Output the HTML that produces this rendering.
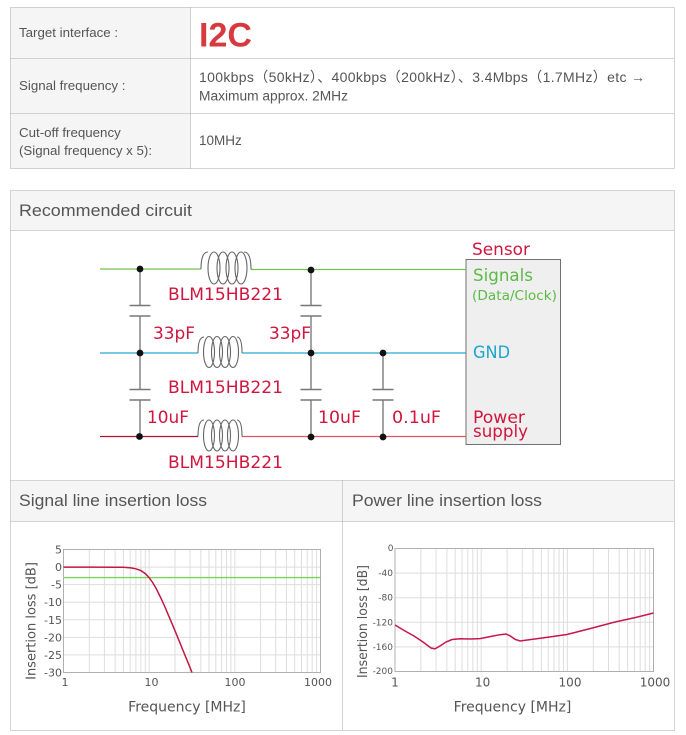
<!DOCTYPE html>
<html><head><meta charset="utf-8">
<style>
html,body{margin:0;padding:0;background:#fff;}
svg{display:block;}
.t{font-family:"Liberation Sans","Noto Sans CJK JP",sans-serif;fill:#555;}
.c{font-family:"DejaVu Sans",sans-serif;}
</style></head><body>
<svg width="686" height="735" viewBox="0 0 686 735" xmlns="http://www.w3.org/2000/svg">
<!-- ===== TABLE ===== -->
<rect x="10" y="7" width="181" height="162" fill="#f5f5f5"/>
<g fill="none" stroke="#aaaaaa" stroke-width="1" stroke-dasharray="1 1">
<rect x="10.5" y="7.5" width="664" height="161"/>
<path d="M10.5,58.5H674.5M10.5,113.5H674.5M190.5,7.5V168.5"/>
</g>
<text class="t" x="19" y="37" font-size="13.3">Target interface :</text>
<text x="199" y="46.5" font-family="Liberation Sans, sans-serif" font-weight="bold" font-size="34" fill="#d63a3f">I2C</text>
<text class="t" x="19" y="90" font-size="13.3">Signal frequency :</text>
<text class="t" x="199" y="82" font-size="14" textLength="446" lengthAdjust="spacing">100kbps（50kHz）、400kbps（200kHz）、3.4Mbps（1.7MHz）etc →</text>
<text class="t" x="199" y="100.5" font-size="13.5" textLength="149" lengthAdjust="spacingAndGlyphs">Maximum approx. 2MHz</text>
<text class="t" x="19" y="137" font-size="13.3">Cut-off frequency</text>
<text class="t" x="19" y="155" font-size="13.3">(Signal frequency x 5):</text>
<text class="t" x="199" y="145" font-size="13.5">10MHz</text>

<!-- ===== CIRCUIT BOX ===== -->
<rect x="11" y="191" width="663" height="39" fill="#f5f5f5"/>
<rect x="11" y="481" width="663" height="40" fill="#f5f5f5"/>
<g fill="none" stroke="#aaaaaa" stroke-width="1" stroke-dasharray="1 1">
<rect x="10.5" y="190.5" width="664" height="540"/>
<path d="M10.5,230.5H674.5M10.5,480.5H674.5M10.5,521.5H674.5M342.5,480.5V730.5"/>
</g>
<text class="t" x="19" y="216" font-size="17" textLength="173" lengthAdjust="spacingAndGlyphs">Recommended circuit</text>

<!-- sensor box -->
<rect x="466" y="259.5" width="94.5" height="185" fill="#efefef" stroke="#707070" stroke-width="1"/>

<!-- wires -->
<g fill="none" stroke-width="1.3">
<path d="M100,269H201M251,269.5H466" stroke="#72c24e"/>
<path d="M100,353H198M242,353H466" stroke="#2aa8cf"/>
<path d="M100,436.5H198" stroke="#b3112f"/>
<path d="M242,436.5H466" stroke="#e2506b"/>
</g>
<!-- capacitors -->
<g fill="none" stroke="#666" stroke-width="1.2">
<path d="M140,269V305.5M140,316V389.5M140,400V436.5"/>
<path d="M311,270V305.5M311,316V389.5M311,400V437"/>
<path d="M383,353V389.5M383,400V437"/>
</g>
<g fill="none" stroke="#777" stroke-width="1.6">
<path d="M129.5,305.5H150.5M129.5,316H150.5M129.5,389.5H150.5M129.5,400H150.5"/>
<path d="M300.5,305.5H321.5M300.5,316H321.5M300.5,389.5H321.5M300.5,400H321.5"/>
<path d="M372.5,389.5H393.5M372.5,400H393.5"/>
</g>
<!-- inductors -->
<g fill="none" stroke="#666" stroke-width="1.1">
<path d="M201,269 Q201,252 208,252"/><path d="M244,252 Q251,252 251,269.5"/>
<ellipse cx="214" cy="268" rx="6" ry="16"/><ellipse cx="223" cy="268" rx="6" ry="16"/>
<ellipse cx="232" cy="268" rx="6" ry="16"/><ellipse cx="241" cy="268" rx="6" ry="16"/>

<path d="M198,353 Q198,337 204,337"/><path d="M237,337 Q242,337 242,353"/>
<ellipse cx="209" cy="352" rx="5.5" ry="15.5"/><ellipse cx="217" cy="352" rx="5.5" ry="15.5"/>
<ellipse cx="225" cy="352" rx="5.5" ry="15.5"/><ellipse cx="233" cy="352" rx="5.5" ry="15.5"/>

<path d="M198,436.5 Q198,420 204,420"/><path d="M237,420 Q242,420 242,436.5"/>
<ellipse cx="209" cy="435.5" rx="5.5" ry="15.5"/><ellipse cx="217" cy="435.5" rx="5.5" ry="15.5"/>
<ellipse cx="225" cy="435.5" rx="5.5" ry="15.5"/><ellipse cx="233" cy="435.5" rx="5.5" ry="15.5"/>
</g>
<!-- dots -->
<g fill="#111">
<circle cx="140" cy="269" r="3.4"/><circle cx="311" cy="270" r="3.4"/>
<circle cx="140" cy="353" r="3.4"/><circle cx="311" cy="353" r="3.4"/><circle cx="383" cy="353" r="3.4"/>
<circle cx="139.5" cy="436.5" r="3.4"/><circle cx="311" cy="437" r="3.4"/><circle cx="383" cy="437" r="3.4"/>
</g>
<!-- circuit labels -->
<g class="c" font-size="17" fill="#d0163e">
<text x="168" y="300" textLength="115" lengthAdjust="spacingAndGlyphs">BLM15HB221</text>
<text x="168" y="393" textLength="115" lengthAdjust="spacingAndGlyphs">BLM15HB221</text>
<text x="168" y="468" textLength="115" lengthAdjust="spacingAndGlyphs">BLM15HB221</text>
<text x="153" y="339" textLength="42" lengthAdjust="spacingAndGlyphs">33pF</text>
<text x="269" y="339" textLength="42" lengthAdjust="spacingAndGlyphs">33pF</text>
<text x="147" y="423" textLength="42" lengthAdjust="spacingAndGlyphs">10uF</text>
<text x="318" y="423" textLength="43" lengthAdjust="spacingAndGlyphs">10uF</text>
<text x="392" y="423" textLength="49" lengthAdjust="spacingAndGlyphs">0.1uF</text>
<text x="472" y="255" textLength="58" lengthAdjust="spacingAndGlyphs">Sensor</text>
<text x="473" y="423" textLength="52" lengthAdjust="spacingAndGlyphs">Power</text>
<text x="473" y="437" textLength="55" lengthAdjust="spacingAndGlyphs">supply</text>
</g>
<text class="c" x="473" y="281" font-size="17" fill="#5cb946" textLength="60" lengthAdjust="spacingAndGlyphs">Signals</text>
<text class="c" x="472" y="300" font-size="13.5" fill="#5cb946" textLength="85" lengthAdjust="spacingAndGlyphs">(Data/Clock)</text>
<text class="c" x="473" y="358" font-size="17" fill="#1ea4cc" textLength="37" lengthAdjust="spacingAndGlyphs">GND</text>

<!-- ===== CHART HEADERS ===== -->
<text class="t" x="19" y="506" font-size="17" textLength="188" lengthAdjust="spacingAndGlyphs">Signal line insertion loss</text>
<text class="t" x="352" y="506" font-size="17" textLength="190" lengthAdjust="spacingAndGlyphs">Power line insertion loss</text>

<!-- ===== LEFT CHART ===== -->
<g fill="none" stroke="#dedede" stroke-width="1">
<path d="M89.3,549.5V672.5M104.4,549.5V672.5M115.1,549.5V672.5M123.4,549.5V672.5M130.2,549.5V672.5M135.9,549.5V672.5M140.9,549.5V672.5M145.3,549.5V672.5M149.2,549.5V672.5
M175,549.5V672.5M190,549.5V672.5M200.8,549.5V672.5M209,549.5V672.5M215.8,549.5V672.5M221.6,549.5V672.5M226.5,549.5V672.5M230.9,549.5V672.5M234.8,549.5V672.5
M260.6,549.5V672.5M275.7,549.5V672.5M286.4,549.5V672.5M294.7,549.5V672.5M301.5,549.5V672.5M307.2,549.5V672.5M312.2,549.5V672.5M316.6,549.5V672.5"/>
<path d="M63.5,567.1H320.5M63.5,584.6H320.5M63.5,602.2H320.5M63.5,619.8H320.5M63.5,637.4H320.5M63.5,654.9H320.5"/>
</g>
<rect x="63.5" y="549.5" width="257" height="123" fill="none" stroke="#b0b0b0" stroke-width="1"/>
<path d="M63.5,577.6H320.5" stroke="#7bd35a" stroke-width="1.4" fill="none"/>
<polyline fill="none" stroke="#c2173f" stroke-width="1.5" points="63.5,567.1 90,567.1 115.1,567.2 123.4,567.3 130.2,567.8 135.9,568.8 140.9,570.6 145.3,573.6 149.2,577.7 152.7,582.6 156,588.2 158.9,594 161.7,599.8 164.3,605.5 168.9,616.3 175,630.7 183.3,651.1 190.1,667.7 192,672.5"/>
<g class="c" font-size="11" fill="#555" text-anchor="end">
<text x="62" y="553.5">5</text><text x="62" y="571.1">0</text><text x="62" y="588.6">-5</text>
<text x="62" y="606.2">-10</text><text x="62" y="623.8">-15</text><text x="62" y="641.4">-20</text>
<text x="62" y="658.9">-25</text><text x="62" y="676.5">-30</text>
</g>
<g class="c" font-size="11" fill="#555" text-anchor="middle">
<text x="65" y="686">1</text><text x="151.5" y="686">10</text><text x="235" y="686">100</text><text x="318" y="686">1000</text>
</g>
<text class="c" x="187" y="711.5" font-size="14" fill="#555" text-anchor="middle">Frequency [MHz]</text>
<text class="c" transform="translate(35.5,621) rotate(-90)" font-size="13" fill="#555" text-anchor="middle">Insertion loss [dB]</text>

<!-- ===== RIGHT CHART ===== -->
<g fill="none" stroke="#dedede" stroke-width="1">
<path d="M420.9,548.5V671.5M436.1,548.5V671.5M446.9,548.5V671.5M455.2,548.5V671.5M462,548.5V671.5M467.8,548.5V671.5M472.8,548.5V671.5M477.3,548.5V671.5M481.2,548.5V671.5
M507.1,548.5V671.5M522.3,548.5V671.5M533,548.5V671.5M541.4,548.5V671.5M548.2,548.5V671.5M554,548.5V671.5M559,548.5V671.5M563.4,548.5V671.5M567.3,548.5V671.5
M593.3,548.5V671.5M608.5,548.5V671.5M619.2,548.5V671.5M627.6,548.5V671.5M634.4,548.5V671.5M640.2,548.5V671.5M645.2,548.5V671.5M649.6,548.5V671.5"/>
<path d="M395,573.1H653.5M395,597.7H653.5M395,622.3H653.5M395,646.9H653.5"/>
</g>
<rect x="395" y="548.5" width="258.5" height="123" fill="none" stroke="#b0b0b0" stroke-width="1"/>
<polyline fill="none" stroke="#c8174a" stroke-width="1.5" points="395,625 405,631 414,636 423,642 431,648 435,648.8 440,646 446,642 452,639.5 460,638.8 470,639 480,638.6 490,636.6 500,634.7 506,634 510,635.8 515,639.3 520,641 530,639.6 545,637.6 567,634.5 590,628.6 615,622 635,617.6 653.5,613"/>
<g class="c" font-size="9" fill="#555" text-anchor="end">
<text x="393.5" y="551">0</text><text x="393" y="576">-40</text><text x="393" y="600.7">-80</text>
<text x="393" y="625.3">-120</text><text x="393" y="649.9">-160</text><text x="393" y="674.2">-200</text>
</g>
<g class="c" font-size="12" fill="#555" text-anchor="middle">
<text x="395" y="686.5">1</text><text x="482.7" y="686.5">10</text><text x="570" y="686.5">100</text><text x="655" y="686.5">1000</text>
</g>
<text class="c" x="512.5" y="711.5" font-size="14" fill="#555" text-anchor="middle">Frequency [MHz]</text>
<text class="c" transform="translate(367,621.5) rotate(-90)" font-size="13" fill="#555" text-anchor="middle" textLength="113" lengthAdjust="spacingAndGlyphs">Insertion loss [dB]</text>
</svg>
</body></html>
